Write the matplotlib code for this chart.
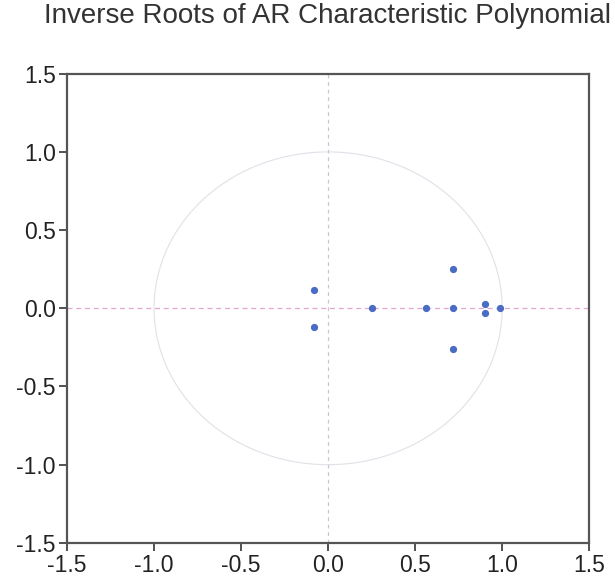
import numpy as np
import matplotlib
matplotlib.use("Agg")
import matplotlib.pyplot as plt

plt.rcParams['font.family'] = ['Liberation Sans', 'DejaVu Sans']

root_re = [-0.08, -0.08, 0.25, 0.56, 0.72, 0.72, 0.72, 0.90, 0.90, 0.99]
root_im = [0.115, -0.12, 0.0, 0.0, 0.0, 0.25, -0.26, 0.03, -0.03, 0.0]
ticks = [-1.5, -1.0, -0.5, 0.0, 0.5, 1.0, 1.5]
tick_labels = ['-1.5', '-1.0', '-0.5', '0.0', '0.5', '1.0', '1.5']

fig = plt.figure(figsize=(6.15, 5.85), dpi=100)
ax = fig.add_axes([0.109, 0.072, 0.849, 0.802])

# unit circle
t = np.linspace(0, 2 * np.pi, 400)
ax.plot(np.cos(t), np.sin(t), color='#e2e0e8', lw=0.8, zorder=1)

# zero lines
ax.axhline(0, color='#e2a6cc', lw=0.9, ls=(0, (4, 3)), zorder=1)
ax.axvline(0, color='#cbc4d4', lw=0.9, ls=(0, (3, 3)), zorder=1)

ax.plot(root_re, root_im, 'o', color='#4a6cc4', ms=4.2, mec='#4a6cc4', zorder=3)

ax.set_xlim(-1.5, 1.5)
ax.set_ylim(-1.5, 1.5)
ax.set_xticks(ticks)
ax.set_xticklabels(tick_labels)
ax.set_yticks(ticks)
ax.set_yticklabels(tick_labels)
ax.tick_params(direction='out', length=6, width=1.2, labelsize=16.5,
               colors='#333333', labelcolor='#222222', pad=2,
               top=False, right=False)
for s in ax.spines.values():
    s.set_color('#555555')
    s.set_linewidth(1.6)

fig.text(0.532, 0.973, 'Inverse Roots of AR Characteristic Polynomial',
         ha='center', va='center', fontsize=20, color='#333333')

fig.savefig('out.png', dpi=100)
